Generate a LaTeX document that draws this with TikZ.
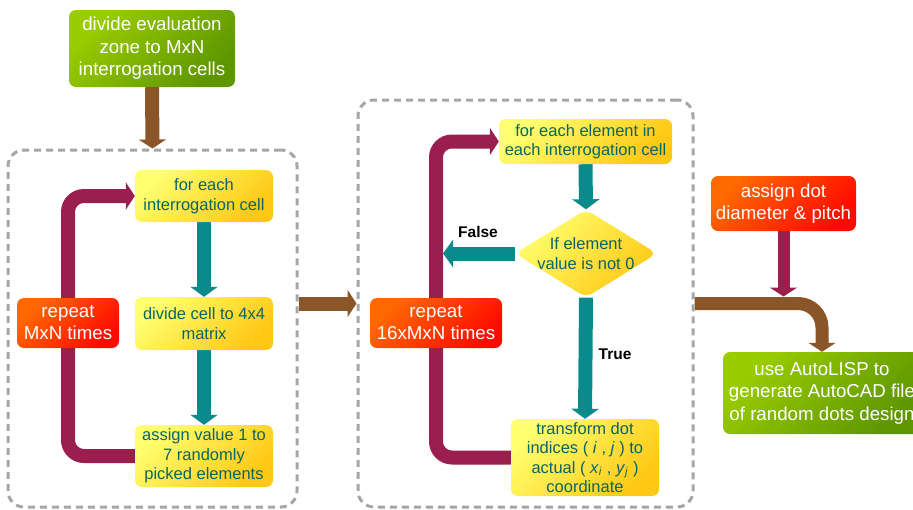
\documentclass[tikz,border=0pt]{standalone}
\usepackage{fontspec}
\setmainfont{Liberation Sans}
\usetikzlibrary{arrows.meta,shapes.geometric,backgrounds,calc}
\definecolor{gA}{HTML}{9ACD00}
\definecolor{gB}{HTML}{5E9600}
\definecolor{yA}{HTML}{FFFF70}
\definecolor{yB}{HTML}{FFC814}
\definecolor{oA}{HTML}{FF6A00}
\definecolor{oB}{HTML}{FF0A00}
\definecolor{tealc}{HTML}{0A8A8A}
\definecolor{magc}{HTML}{9A1E4E}
\definecolor{brownc}{HTML}{8A5528}
\definecolor{tx}{HTML}{0A6464}
\definecolor{dgray}{HTML}{A6A6A6}
\begin{document}
\begin{tikzpicture}[x=1pt,y=-1pt,
  base/.style={rounded corners=7pt, align=center, inner sep=0pt},
  ybox/.style={base, left color=yA, right color=yB, shading angle=45, text=tx,
    font=\fontsize{16.5}{19.5}\selectfont},
  gbox/.style={base, left color=gA, right color=gB, shading angle=45, text=white,
    font=\fontsize{18.7}{22.5}\selectfont},
  obox/.style={base, left color=oA, right color=oB, shading angle=45, text=white,
    font=\fontsize{18.7}{22}\selectfont},
  dbox/.style={draw=dgray, line width=3pt, dash pattern=on 7pt off 5pt, rounded corners=16pt},
  tarr/.style={line width=14pt, draw=tealc, -{Triangle[width=27pt,length=10pt]}},
  marr/.style={line width=14pt, draw=magc, -{Triangle[width=27pt,length=9pt]}},
  barr/.style={line width=14pt, draw=brownc, -{Triangle[width=27pt,length=9pt]}},
  lbl/.style={font=\fontsize{15.5}{18}\selectfont\bfseries, text=black}
]
\useasboundingbox (0,0) rectangle (913,509);

% dashed groups
\node[dbox, minimum width=289pt, minimum height=357pt] (box1) at (152.5,328.5) {};
\node[dbox, minimum width=335pt, minimum height=407pt] (box2) at (525.5,303.5) {};

% nodes
\node[gbox, minimum width=166pt, minimum height=77pt] (zone) at (152,48.5)
  {divide evaluation\\zone to MxN\\interrogation cells};

\node[ybox, minimum width=138pt, minimum height=52pt] (for1) at (204,196)
  {for each\\interrogation cell};
\node[ybox, minimum width=138pt, minimum height=53pt] (div1) at (204,323.5)
  {divide cell to 4x4\\matrix};
\node[ybox, minimum width=138pt, minimum height=62pt] (ass1) at (204,456)
  {assign value 1 to\\7 randomly\\picked elements};
\node[obox, minimum width=102pt, minimum height=50pt] (rep1) at (68,323)
  {repeat\\MxN times};

\node[ybox, minimum width=173pt, minimum height=45pt] (for2) at (585.5,141.5)
  {for each element in\\each interrogation cell};
\node[diamond, rounded corners=8pt, left color=yA, right color=yB, shading angle=45,
  minimum width=142pt, minimum height=88pt, inner sep=0pt] (dia) at (586,253.5) {};
\node[align=center, text=tx, font=\fontsize{16.5}{19.5}\selectfont, inner sep=0pt]
  (diat) at (dia.center) {If element\\value is not 0};
\node[ybox, minimum width=148pt, minimum height=77pt] (trans) at (585,457.5)
  {transform dot\\indices ( \textit{i} , \textit{j} ) to\\actual ( \textit{x}\textsubscript{\textit{i}} , \textit{y}\textsubscript{\textit{j}} )\\coordinate};
\node[obox, minimum width=132pt, minimum height=50pt] (rep2) at (436,323)
  {repeat\\16xMxN times};

\node[lbl] (fl) at (478,232) {False};
\node[lbl] (tl) at (615,354) {True};

\node[obox, minimum width=145pt, minimum height=55pt] (dot) at (783.5,203.5)
  {assign dot\\diameter \& pitch};
\node[gbox, minimum width=198pt, minimum height=82pt] (lisp) at (822,393)
  {use AutoLISP to\\generate AutoCAD file\\of random dots design};

\coordinate (fend) at ($(rep2.center |- dia.west)+(7,0)$);
\coordinate (joint) at ($(dot.south |- box2.east)+(0,-7)$);

\begin{pgfonlayer}{background}
  \draw[barr] (zone.south) -- (box1.north);
  \draw[tarr] (for1.south) -- (div1.north);
  \draw[tarr] (div1.south) -- (ass1.north);
  \draw[marr, rounded corners=16pt] (ass1.west) -| (rep1.center) |- (for1.west);
  \draw[barr] (box1.east |- box2.east) -- (box2.west);
  \draw[tarr] (for2.south) -- (dia.north);
  \draw[tarr] (dia.south) -- (trans.north);
  \draw[tarr] (dia.west) -- (fend);
  \draw[marr, rounded corners=16pt] (trans.west) -| (rep2.center) |- (for2.west);
  \draw[barr, line width=13pt, rounded corners=24pt] (box2.east) -| (lisp.north);
  \draw[marr, line width=12pt] (dot.south) -- (joint);
\end{pgfonlayer}
\end{tikzpicture}
\end{document}
